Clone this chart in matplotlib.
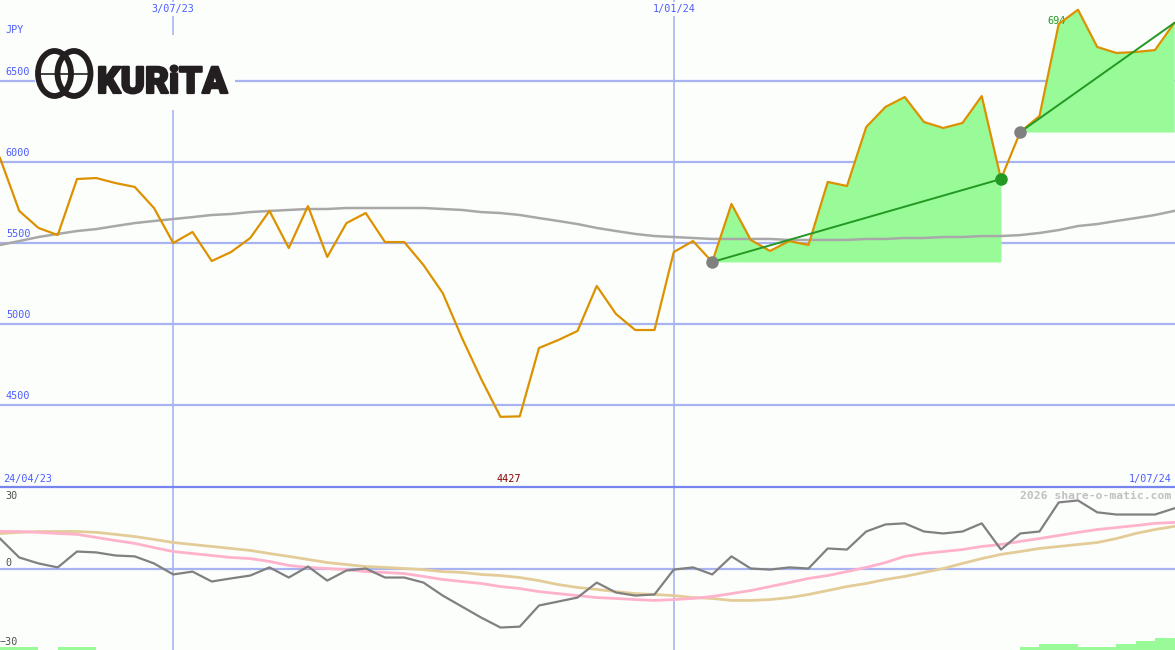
import matplotlib
matplotlib.use("Agg")
import matplotlib.pyplot as plt
import matplotlib.patheffects as pe
import pandas as pd
from matplotlib.patches import Ellipse

# ------------------------------------------------------------------
# Data (weekly closes, JPY)
# ------------------------------------------------------------------

dates = pd.date_range("2023-05-01", periods=62, freq="7D")

price = [
    6025, 5698, 5593, 5549, 5895, 5901, 5870, 5846, 5716, 5500,
    5568, 5389, 5444, 5531, 5698, 5469, 5728, 5414, 5623, 5685,
    5506, 5506, 5364, 5191, 4914, 4660, 4427, 4430, 4852, 4901,
    4957, 5235, 5062, 4963, 4963, 5444, 5512, 5383, 5741, 5519,
    5451, 5512, 5488, 5877, 5852, 6216, 6340, 6401, 6247, 6210,
    6241, 6407, 5895, 6185, 6284, 6852, 6940, 6710, 6673, 6679,
    6691, 6858,
]

price_ma = [
    5488, 5512, 5537, 5556, 5574, 5586, 5605, 5623, 5636, 5648,
    5660, 5673, 5679, 5691, 5698, 5704, 5710, 5710, 5716, 5716,
    5716, 5716, 5716, 5710, 5704, 5691, 5685, 5673, 5654, 5636,
    5617, 5593, 5574, 5556, 5543, 5537, 5531, 5525, 5525, 5525,
    5525, 5519, 5519, 5519, 5519, 5525, 5525, 5531, 5531, 5537,
    5537, 5543, 5543, 5549, 5562, 5580, 5605, 5617, 5636, 5654,
    5673, 5698,
]

osc = [
    13.6, 5.0, 2.3, 0.5, 7.7, 7.3, 5.9, 5.5, 2.3, -2.7,
    -1.4, -5.9, -4.5, -3.2, 0.5, -4.1, 0.9, -5.5, -0.9, 0.0,
    -4.1, -4.1, -6.4, -12.3, -17.3, -22.3, -26.8, -26.4, -16.8, -15.0,
    -13.2, -6.4, -10.9, -12.3, -11.8, -0.5, 0.5, -2.7, 5.5, 0.0,
    -0.5, 0.5, 0.0, 9.1, 8.6, 16.8, 20.0, 20.5, 16.8, 15.9,
    16.8, 20.5, 8.6, 15.9, 16.8, 30.0, 30.9, 25.5, 24.5, 24.5,
    24.5, 27.3,
]

osc_pink = [
    16.8, 16.8, 16.4, 15.9, 15.5, 14.1, 12.7, 11.4, 9.5, 7.7,
    6.8, 5.9, 5.0, 4.5, 3.2, 1.4, 0.5, 0.0, -0.5, -1.4,
    -1.8, -2.3, -3.6, -5.0, -5.9, -6.8, -8.2, -9.1, -10.5, -11.4,
    -12.3, -13.2, -13.6, -14.1, -14.5, -14.1, -13.6, -12.7, -11.4, -10.0,
    -8.2, -6.4, -4.5, -3.2, -1.4, 0.5, 2.7, 5.5, 6.8, 7.7,
    8.6, 10.0, 10.9, 12.3, 13.6, 15.0, 16.4, 17.7, 18.6, 19.5,
    20.5, 20.9,
]

osc_tan = [
    15.9, 16.4, 16.8, 16.8, 16.8, 16.4, 15.5, 14.5, 13.2, 11.8,
    10.9, 10.0, 9.1, 8.2, 6.8, 5.5, 4.1, 2.7, 1.8, 0.9,
    0.5, 0.0, -0.5, -1.4, -1.8, -2.7, -3.2, -4.1, -5.5, -7.3,
    -8.6, -9.5, -10.5, -11.4, -11.8, -12.3, -13.2, -13.6, -14.5, -14.5,
    -14.1, -13.2, -11.8, -10.0, -8.2, -6.8, -5.0, -3.6, -1.8, 0.0,
    2.3, 4.5, 6.4, 7.7, 9.1, 10.0, 10.9, 11.8, 13.6, 15.9,
    17.7, 19.1,
]

vol_bars = [
    1.4, 1.4, 0, 1.4, 1.4, 0, 0, 0, 0, 0,
    0, 0, 0, 0, 0, 0, 0, 0, 0, 0,
    0, 0, 0, 0, 0, 0, 0, 0, 0, 0,
    0, 0, 0, 0, 0, 0, 0, 0, 0, 0,
    0, 0, 0, 0, 0, 0, 0, 0, 0, 0,
    0, 0, 0, 1.4, 2.7, 2.7, 1.4, 1.4, 2.7, 4.1,
    5.5, 5.5,
]

price_levels = [6500, 6000, 5500, 5000, 4500]
vlines = [pd.Timestamp("2023-07-03"), pd.Timestamp("2024-01-01")]
trends = [(37, 52, True), (53, 61, False)]

# ------------------------------------------------------------------
# Styling
# ------------------------------------------------------------------

W, H = 1175, 650
BG = "#fcfefc"
GRID = "#a8b4f2"
LBL = "#4c5cff"
ORANGE = "#dc9200"
FILL = "#98fb98"
TREND = "#229922"
INK = "#231f20"
MONO = "DejaVu Sans Mono"

x_left = dates[0]
x_right = dates[0] + pd.Timedelta(days=61.04 * 7)

fig = plt.figure(figsize=(W / 100, H / 100), dpi=100, facecolor=BG)

split = 163 / H
ax = fig.add_axes([0, split, 1, 1 - split], facecolor=BG)
ax2 = fig.add_axes([0, 0, 1, split], facecolor=BG)

for a in (ax, ax2):
    a.set_xlim(x_left, x_right)
    a.set_xticks([])
    a.set_yticks([])
    for s in a.spines.values():
        s.set_visible(False)

# --- price panel ---
ax.set_ylim(3994, 7000)
for lv in price_levels:
    ax.axhline(lv, color=GRID, lw=1.6, zorder=1)
    ax.text(0.005, lv + 25, str(lv), transform=ax.get_yaxis_transform(),
            color=LBL, fontsize=7.3, family=MONO, va="bottom", ha="left", zorder=6)
for d in vlines:
    ax.axvline(d, color=GRID, lw=1.2, zorder=1)
    ax2.axvline(d, color=GRID, lw=1.2, zorder=1)

ax.plot(dates, price_ma, color="#a8a8a8", lw=1.8, zorder=3)

for i0, i1, end_dot in trends:
    base = price[i0]
    ax.fill_between(dates[i0:i1 + 1], base, price[i0:i1 + 1],
                    where=[p >= base for p in price[i0:i1 + 1]],
                    color=FILL, lw=0, zorder=2)

ax.plot(dates, price, color=ORANGE, lw=1.6, zorder=4)

for i0, i1, end_dot in trends:
    ax.plot([dates[i0], dates[i1]], [price[i0], price[i1]], color=TREND, lw=1.4, zorder=5)
    ax.plot(dates[i0], price[i0], "o", color="#808080", ms=8, zorder=6)
    if end_dot:
        ax.plot(dates[i1], price[i1], "o", color=TREND, ms=8, zorder=6)

ax.text(0.005, 6815, "JPY", transform=ax.get_yaxis_transform(),
        color=LBL, fontsize=7.3, family=MONO, va="center", ha="left")
for d, lab in zip(vlines, ["3/07/23", "1/01/24"]):
    ax.text(d, 6945, lab, color=LBL, fontsize=7.3, family=MONO, ha="center", va="center",
            bbox=dict(facecolor=BG, edgecolor="none", pad=1.5), zorder=6)
ax.text(0.003, 4042, "24/04/23", transform=ax.get_yaxis_transform(),
        color=LBL, fontsize=7.3, family=MONO, ha="left", va="center")
ax.text(0.997, 4042, "1/07/24", transform=ax.get_yaxis_transform(),
        color=LBL, fontsize=7.3, family=MONO, ha="right", va="center")
i_min = price.index(min(price))
ax.text(dates[i_min] + pd.Timedelta(days=3), 4042, str(min(price)), color="#8b0000",
        fontsize=7.3, family=MONO, ha="center", va="center")
i_max = price.index(max(price))
ax.text(dates[i_max] - pd.Timedelta(days=11), 6870, "694", color=TREND,
        fontsize=7.3, family=MONO, ha="left", va="center", zorder=3)

# --- oscillator panel ---
ax2.set_ylim(-37, 37)
ax2.axhline(0, color=GRID, lw=1.6, zorder=1)
ax2.bar(dates, vol_bars, width=7, align="edge", bottom=-37, color=FILL, lw=0, zorder=1)
ax2.plot(dates, osc_tan, color="#e4cc98", lw=2, zorder=2)
ax2.plot(dates, osc_pink, color="#ffb2cc", lw=2, zorder=2)
ax2.plot(dates, osc, color="#808080", lw=1.6, zorder=3)

ax2.text(0.005, 32.7, "30", transform=ax2.get_yaxis_transform(), color="#505050",
         fontsize=7.3, family=MONO, ha="left", va="center")
ax2.text(0.005, 2.7, "0", transform=ax2.get_yaxis_transform(), color="#505050",
         fontsize=7.3, family=MONO, ha="left", va="center")
ax2.text(0.0, -33.2, "\u221230", transform=ax2.get_yaxis_transform(), color="#505050",
         fontsize=7.3, family=MONO, ha="left", va="center")
ax2.text(0.997, 32.7, "2026 share-o-matic.com", transform=ax2.get_yaxis_transform(),
         color="#c0c0c0", fontsize=8.2, family=MONO, weight="bold", ha="right", va="center")

fig.add_artist(plt.Line2D([0, 1], [split, split], transform=fig.transFigure,
                          color="#7785ee", lw=1.6))

# --- logo ---
lg = fig.add_axes([35 / W, 1 - 110 / H, 200 / W, 75 / H], facecolor=BG, zorder=10)
lg.set_xlim(35, 235)
lg.set_ylim(110, 35)
lg.axis("off")
lg.add_patch(plt.Rectangle((35, 35), 200, 75, color=BG, zorder=0))
for cx in (54.5, 74.0):
    lg.add_patch(Ellipse((cx, 73.5), 33, 45, fill=False, ec=INK, lw=4.2))
lg.plot([38, 91], [73.5, 73.5], color=INK, lw=1.2)
lg.text(97, 93, "KURiTA", color=INK, fontsize=26.5, family=["Roboto", "DejaVu Sans"],
        weight="black", ha="left", va="baseline",
        path_effects=[pe.withStroke(linewidth=1.6, foreground=INK)])

fig.savefig("out.png", dpi=100, facecolor=BG)
